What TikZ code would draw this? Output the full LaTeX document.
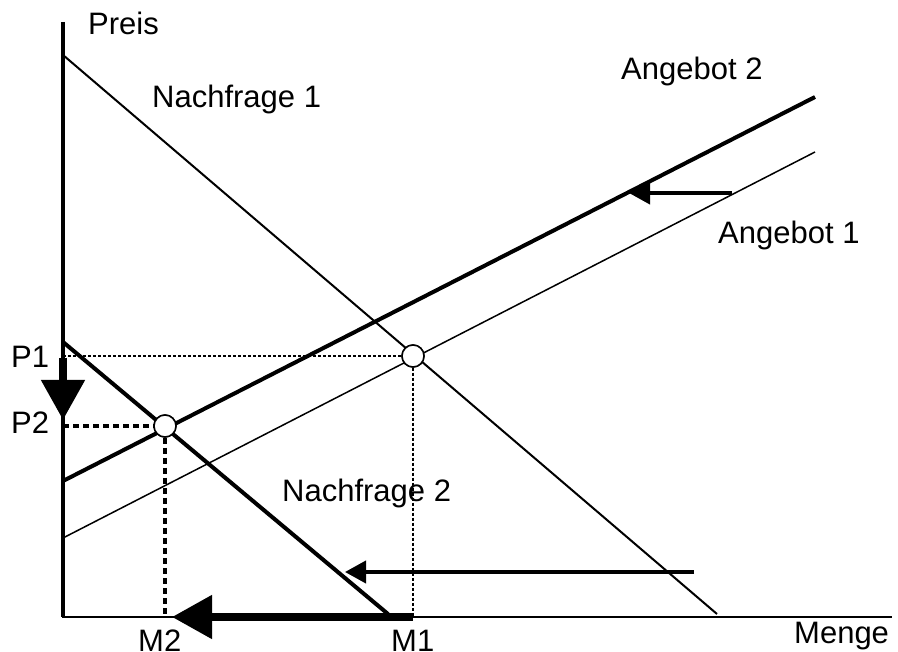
\documentclass[tikz,border=0pt]{standalone}
\usepackage{fontspec}
\setmainfont{Liberation Sans}
\usetikzlibrary{arrows.meta}

\begin{document}
\begin{tikzpicture}[x=1pt,y=-1pt,
    lbl/.style={font=\fontsize{31}{34}\selectfont,inner sep=0pt,anchor=base west},
    eq/.style={shape=circle,draw=black,fill=white,line width=1.5pt,minimum size=22pt,inner sep=0pt},
    thinline/.style={line width=1.5pt},
    thickline/.style={line width=4pt},
    fineguide/.style={line width=1.5pt,dash pattern=on 3pt off 2pt},
    boldguide/.style={line width=4pt,dash pattern=on 6pt off 4pt},
    bigshift/.style={line width=8pt,-{Triangle[length=40pt,width=42pt]}},
    smallshift/.style={line width=4pt,-{Triangle[length=21pt,width=22pt]}}]
                \useasboundingbox (0,0) rectangle (898,652);
                % axes
                \coordinate (ytop) at (63, 22);
                \coordinate (origin) at (63, 617);
                \coordinate (xend) at (892, 617);
                \draw[thickline] (ytop) -- (origin);
                \draw[line width=2pt] (62, 617) -- (xend);
                % demand and supply curves
                \coordinate (d1a) at (63, 55);
                \coordinate (d1b) at (717, 614);
                \coordinate (d2a) at (63, 342);
                \coordinate (d2b) at (388, 614);
                \coordinate (s1a) at (63, 538);
                \coordinate (s1b) at (815, 152);
                \coordinate (s2a) at (63, 481);
                \coordinate (s2b) at (815, 97);
                \draw[line width=2pt] (d1a) -- (d1b);
                \draw[thickline] (d2a) -- (d2b);
                \draw[thinline] (s1a) -- (s1b);
                \draw[thickline] (s2a) -- (s2b);
                % guides
                \node[eq](e1)at(413, 356){};
                \node[eq](e2)at(165, 426){};
                \coordinate (yp1) at (63, 356);
                \coordinate (yp2) at (63, 426);
                \coordinate (xm1) at (413, 617);
                \coordinate (xm2) at (165, 617);
                \draw[fineguide] (yp1) -- (e1.west);
                \draw[fineguide] (e1.south) -- (xm1);
                \draw[boldguide] (yp2) -- (e2.west);
                \draw[boldguide] (e2.south) -- (xm2);
                \node[eq] at (e1) {};
                \node[eq] at (e2) {};
                % shifts
                \coordinate (pa) at (63, 358);
                \coordinate (pb) at (63, 420);
                \coordinate (ma) at (413, 617);
                \coordinate (mb) at (172, 617);
                \coordinate (da) at (694, 572);
                \coordinate (db) at (345, 572);
                \coordinate (sa) at (732, 193);
                \coordinate (sb) at (629, 193);
                \draw[bigshift] (pa) -- (pb);
                \draw[bigshift] (ma) -- (mb);
                \draw[smallshift] (da) -- (db);
                \draw[smallshift] (sa) -- (sb);
                % labels
                \node[lbl](preis)at(88, 35){Preis};
                \node[lbl](menge)at(794, 643){Menge};
                \node[lbl](nf1)at(152, 108){Nachfrage 1};
                \node[lbl](nf2)at(282, 502){Nachfrage 2};
                \node[lbl](ang1)at(718, 244){Angebot 1};
                \node[lbl](ang2)at(621, 80){Angebot 2};
                \node[lbl](p1)at(11, 368){P1};
                \node[lbl](p2)at(11, 434){P2};
                \node[lbl](m2)at(138, 651){M2};
                \node[lbl](m1)at(391, 651){M1};
            \end{tikzpicture}
\end{document}
